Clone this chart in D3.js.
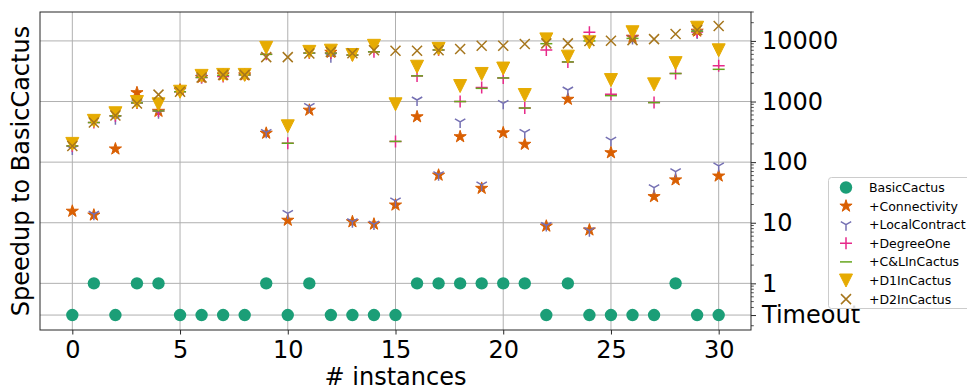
<!DOCTYPE html>
<html>
<head>
<meta charset="utf-8">
<script src="https://cdn.jsdelivr.net/npm/d3@7"></script>
<style>
  html, body { margin: 0; padding: 0; background: #fff; }
  svg { display: block; font-family: "DejaVu Sans", sans-serif; }
</style>
</head>
<body>
<svg id="chart" width="967" height="391"></svg>
<script>
// Position used for runs that hit the time limit
const TIMEOUT = 0.3;
const T = TIMEOUT;

const instances = [0,1,2,3,4,5,6,7,8,9,10,11,12,13,14,15,16,17,18,19,20,21,22,23,24,25,26,27,28,29,30];

const basicCactus   = [T,1,T,1,1,T,T,T,T,1,T,1,T,T,T,T,1,1,1,1,1,1,T,1,T,T,T,T,1,T,T];
const connectivity  = [15.5,13.4,165,1400,690,1550,2500,2750,2750,300,11,720,6500,10.4,9.5,19.6,560,61,263,37,305,197,8.8,1090,7.6,143,11500,27,51,14500,59];
const localContract = [165,13.8,520,950,650,1450,2500,2750,2750,310,14.3,830,5500,10.4,9.5,23,1060,62,460,42,935,310,9.0,1550,7.4,230,11000,38,70,13500,87];
const degreeOne     = [185,450,580,950,700,1450,2500,2600,2750,6000,205,6300,6300,5850,6600,220,2650,7100,1000,1700,2450,780,7100,4500,13900,1320,12200,960,2900,14000,3900];
const clInCactus    = [185,450,580,950,700,1450,2500,2700,2750,6000,205,6300,6300,5850,6600,220,2650,7100,1000,1650,2450,780,9000,4500,10000,1250,11000,960,2900,14500,3400];
const d1InCactus    = [200,480,640,980,900,1450,2650,2750,2750,7700,390,6600,6900,5850,8300,900,3750,7400,1800,2850,3500,1280,10600,5500,9500,2260,13900,1920,4300,16500,7000];
const d2InCactus    = [185,450,590,930,1300,1450,2500,2750,2750,5400,5400,6200,6600,6260,7000,6900,6900,7000,7350,8300,8300,8900,9100,9100,10000,10100,10300,10700,13000,15100,17600];

const seriesNames  = ["BasicCactus","+Connectivity","+LocalContract","+DegreeOne","+C&LInCactus","+D1InCactus","+D2InCactus"];
const seriesValues = [basicCactus, connectivity, localContract, degreeOne, clInCactus, d1InCactus, d2InCactus];
const seriesColors = ["#1b9e77","#d95f02","#7570b3","#e7298a","#66a61e","#e6ab02","#a6761d"];
const seriesMarks  = ["circle","star","tri_down","plus","hline","triangle_down","x"];

const xTicks = [0,5,10,15,20,25,30];
const yTicks = [TIMEOUT,1,10,100,1000,10000];
const yTickLabels = ["Timeout","1","10","100","1000","10000"];

const svg = d3.select("#chart");
const plot = { left: 40, right: 751, top: 12, bottom: 330 };

const x = d3.scaleLinear().domain([-1.5, 31.5]).range([plot.left, plot.right]);
const y = d3.scaleLog().domain([0.17, 30000]).range([plot.bottom, plot.top]);

// grid
const grid = svg.append("g").attr("stroke", "#b0b0b0").attr("stroke-width", 1);
grid.selectAll("line.v").data(xTicks).join("line")
  .attr("x1", d => x(d)).attr("x2", d => x(d))
  .attr("y1", plot.top).attr("y2", plot.bottom);
grid.selectAll("line.h").data(yTicks).join("line")
  .attr("x1", plot.left).attr("x2", plot.right)
  .attr("y1", d => y(d)).attr("y2", d => y(d));

// marker shapes
function markerPath(kind) {
  switch (kind) {
    case "star": return d3.symbol(d3.symbolStar, 46)();
    case "tri_down": {
      const r = 6;
      return `M0,0L0,${r}M0,0L${-r*0.866},${-r*0.5}M0,0L${r*0.866},${-r*0.5}`;
    }
    case "plus": { const r = 6; return `M${-r},0L${r},0M0,${-r}L0,${r}`; }
    case "hline": { const r = 6; return `M${-r},0L${r},0`; }
    case "triangle_down": { const r = 6.5; return `M${-r},${-r}L${r},${-r}L0,${r}Z`; }
    case "x": { const r = 5; return `M${-r},${-r}L${r},${r}M${-r},${r}L${r},${-r}`; }
  }
  return null;
}
function drawMarker(sel, kind, color) {
  if (kind === "circle") {
    sel.append("circle").attr("r", 6.2).attr("fill", color);
  } else if (kind === "star" || kind === "triangle_down") {
    sel.append("path").attr("d", markerPath(kind)).attr("fill", color)
      .attr("stroke", color).attr("stroke-width", 1).attr("stroke-linejoin", "round");
  } else {
    sel.append("path").attr("d", markerPath(kind)).attr("fill", "none")
      .attr("stroke", color).attr("stroke-width", 1.5);
  }
}

// series points
const pts = svg.append("g");
seriesValues.forEach((vals, si) => {
  const g = pts.append("g");
  vals.forEach((v, i) => {
    const m = g.append("g").attr("transform", `translate(${x(instances[i])},${y(v)})`);
    drawMarker(m, seriesMarks[si], seriesColors[si]);
  });
});

// frame
svg.append("rect")
  .attr("x", plot.left).attr("y", plot.top)
  .attr("width", plot.right - plot.left).attr("height", plot.bottom - plot.top)
  .attr("fill", "none").attr("stroke", "#262626").attr("stroke-width", 1);

// bottom axis
const xAxis = d3.axisBottom(x).tickValues(xTicks).tickSize(4.5).tickPadding(6).tickFormat(d3.format("d"));
const gx = svg.append("g").attr("transform", `translate(0,${plot.bottom})`).call(xAxis);
gx.select(".domain").remove();
gx.selectAll("line").attr("stroke", "#262626");
gx.selectAll("text").attr("font-size", 24).attr("font-family", "DejaVu Sans").attr("fill", "#000");

// right axis with log minor ticks
const minor = [];
for (let e = -1; e <= 4; e++) {
  for (let k = 2; k <= 9; k++) {
    const v = k * Math.pow(10, e);
    if (v >= 0.17 && v <= 30000 && Math.abs(v - TIMEOUT) > 1e-9) minor.push(v);
  }
}
const gm = svg.append("g").attr("stroke", "#262626").attr("stroke-width", 0.8);
gm.selectAll("line").data(minor).join("line")
  .attr("x1", plot.right).attr("x2", plot.right + 2.8)
  .attr("y1", d => y(d)).attr("y2", d => y(d));

const yAxis = d3.axisRight(y).tickValues(yTicks).tickSize(5).tickPadding(6)
  .tickFormat((d, i) => yTickLabels[i]);
const gy = svg.append("g").attr("transform", `translate(${plot.right},0)`).call(yAxis);
gy.select(".domain").remove();
gy.selectAll("line").attr("stroke", "#262626");
gy.selectAll("text").attr("font-size", 24).attr("font-family", "DejaVu Sans").attr("fill", "#000");

// axis titles
svg.append("text")
  .attr("x", (plot.left + plot.right) / 2).attr("y", 385)
  .attr("text-anchor", "middle").attr("font-size", 24).attr("fill", "#000")
  .text("# instances");
svg.append("text")
  .attr("transform", `translate(29,${(plot.top + plot.bottom) / 2}) rotate(-90)`)
  .attr("text-anchor", "middle").attr("font-size", 24).attr("fill", "#000")
  .text("Speedup to BasicCactus");

// legend
const lg = svg.append("g").attr("transform", "translate(828,177)");
lg.append("rect").attr("x", 0.5).attr("y", 0.5).attr("width", 160).attr("height", 131)
  .attr("rx", 3).attr("fill", "#fff").attr("fill-opacity", 0.85)
  .attr("stroke", "#cccccc").attr("stroke-width", 1);
seriesNames.forEach((name, si) => {
  const row = lg.append("g").attr("transform", `translate(0,${10.5 + si * 18.6})`);
  const m = row.append("g").attr("transform", "translate(18,0)");
  drawMarker(m, seriesMarks[si], seriesColors[si]);
  row.append("text").attr("x", 41).attr("y", 0).attr("dy", "0.36em")
    .attr("font-size", 12.5).attr("fill", "#000").text(name);
});
</script>
</body>
</html>
